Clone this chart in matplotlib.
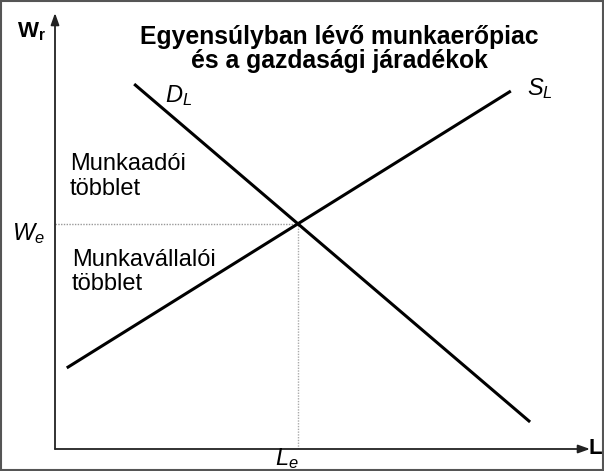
import numpy as np
import matplotlib
matplotlib.use("Agg")
import matplotlib.pyplot as plt
from matplotlib.patches import Rectangle

plt.rcParams["font.family"] = ["Liberation Sans", "DejaVu Sans"]
plt.rcParams["mathtext.fontset"] = "custom"
plt.rcParams["mathtext.rm"] = "Liberation Sans"
plt.rcParams["mathtext.it"] = "Liberation Sans:italic"
plt.rcParams["mathtext.bf"] = "Liberation Sans:bold"

# ── Data (axis units 0..100) ─────────────────────────────────────────────────
demand_L = [14.8, 88.8]
demand_W = [83.7, 6.2]
supply_L = [2.2, 85.2]
supply_W = [18.6, 82.1]

title = "Egyensúlyban lévő munkaerőpiac\nés a gazdasági járadékok"
employer_label = "Munkaadói\ntöbblet"
worker_label = "Munkavállalói\ntöbblet"

# equilibrium = intersection of the two lines
dm, db = np.polyfit(demand_L, demand_W, 1)
sm, sb = np.polyfit(supply_L, supply_W, 1)
L_e = (sb - db) / (dm - sm)
W_e = dm * L_e + db

W, H = 604, 471
fig = plt.figure(figsize=(W / 100, H / 100), dpi=100)
ax = fig.add_axes([55 / W, 22 / H, 535 / W, 436 / H])
ax.set_xlim(0, 100)
ax.set_ylim(0, 100)
ax.axis("off")

# axes with arrows
arrow = dict(arrowstyle="-|>,head_length=0.7,head_width=0.25", color="#222222",
             lw=1.3, shrinkA=0, shrinkB=0)
ax.annotate("", xy=(100, 0), xytext=(0, 0), arrowprops=arrow, annotation_clip=False)
ax.annotate("", xy=(0, 100), xytext=(0, 0), arrowprops=arrow, annotation_clip=False)

# dotted guides
ax.plot([0, L_e], [W_e, W_e], ls=(0, (1, 1)), color="#999999", lw=1)
ax.plot([L_e, L_e], [0, W_e], ls=(0, (1, 1)), color="#aaaaaa", lw=1)

# curves
ax.plot(demand_L, demand_W, color="black", lw=2.2, solid_capstyle="butt")
ax.plot(supply_L, supply_W, color="black", lw=2.2, solid_capstyle="butt")

# texts
ax.text(53.1, 97.2, title, ha="center", va="top", fontsize=17.8,
        fontweight="bold", linespacing=1.0)
ax.text(-7.1, 94.5, r"$\mathbf{W_r}$", fontsize=16, va="baseline", clip_on=False)
ax.text(-8.0, 47.9, r"$W_e$", fontsize=17, va="baseline", clip_on=False)
ax.text(20.6, 79.6, r"$D_L$", fontsize=17, va="baseline")
ax.text(88.2, 81.2, r"$S_L$", fontsize=17, va="baseline")
ax.text(2.8, 58.3, employer_label, fontsize=17, va="baseline", linespacing=1.18)
ax.text(3.2, 36.5, worker_label, fontsize=17, va="baseline", linespacing=1.12)
ax.text(99.8, 0, "L", fontsize=16, fontweight="bold", va="center",
        clip_on=False)
ax.text(41.1, -3.7, r"$L_e$", fontsize=17, va="baseline", clip_on=False)

fig.patches.append(Rectangle((0.001, 0.002), 0.997, 0.995, transform=fig.transFigure,
                             fill=False, edgecolor="#555555", lw=1.5))

fig.savefig("out.png", dpi=100)
